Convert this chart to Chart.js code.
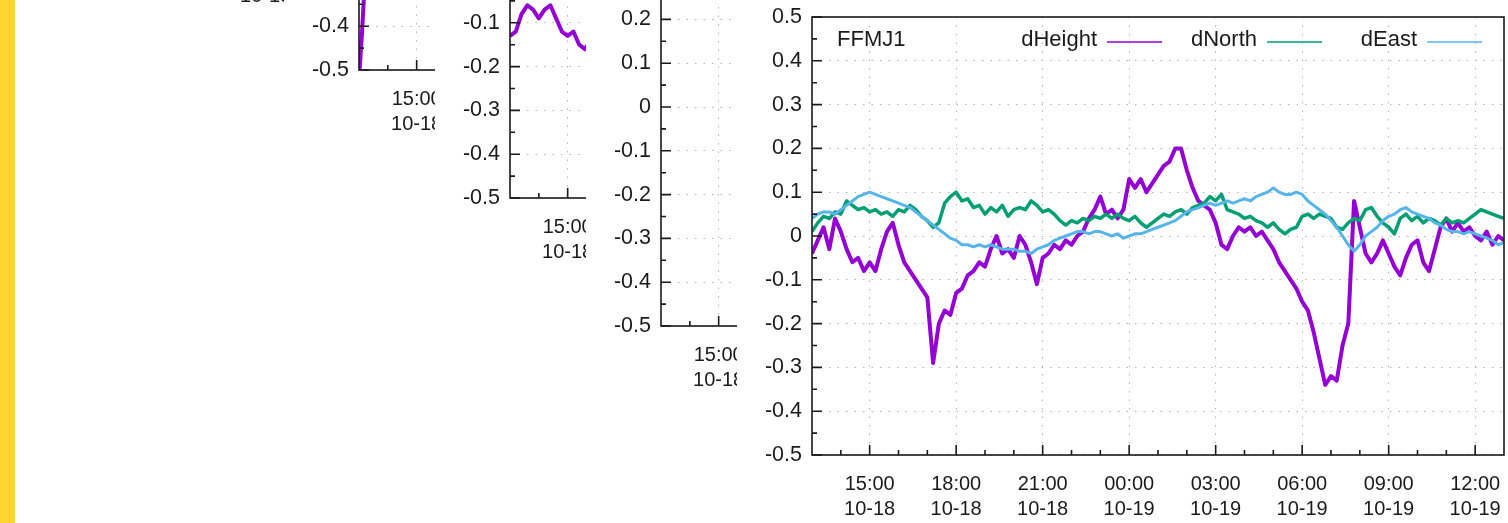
<!DOCTYPE html>
<html>
<head>
<meta charset="utf-8">
<script src="https://cdn.jsdelivr.net/npm/chart.js@4.4.0/dist/chart.umd.min.js"></script>
<style>
  html, body { margin: 0; padding: 0; background: #fff; overflow: hidden; }
  body { width: 1508px; height: 523px; position: relative; }
  #strip { position: absolute; left: 0; top: 0; width: 15px; height: 523px; background: #ffd52e; }
  canvas.plot { position: absolute; background: #fff; }
</style>
</head>
<body>
<div id="strip"></div>
<div id="plots"></div>
<script>
// hours after 13:00 on 10-18, one sample every STEP hours
const STEP = 0.2;

const tickHours = [2, 5, 8, 11, 14, 17, 20, 23];
const timeLabels = ['15:00', '18:00', '21:00', '00:00', '03:00', '06:00', '09:00', '12:00'];
const dateLabels = ['10-18', '10-18', '10-18', '10-19', '10-19', '10-19', '10-19', '10-19'];

// FFMJ1
const ffmj1Height = [
  -0.04, -0.01, 0.02, -0.03, 0.04, 0.01, -0.03, -0.06, -0.05, -0.08,
  -0.06, -0.08, -0.03, 0.01, 0.03, -0.02, -0.06, -0.08, -0.1, -0.12,
  -0.14, -0.29, -0.2, -0.17, -0.18, -0.13, -0.12, -0.09, -0.08, -0.06,
  -0.07, -0.03, 0.0, -0.04, -0.03, -0.05, 0.0, -0.02, -0.06, -0.11,
  -0.05, -0.04, -0.02, -0.03, -0.01, -0.02, 0.0, 0.01, 0.04, 0.06,
  0.09, 0.05, 0.06, 0.04, 0.06, 0.13, 0.11, 0.13, 0.1, 0.12,
  0.14, 0.16, 0.17, 0.2, 0.2, 0.15, 0.11, 0.08, 0.07, 0.06,
  0.03, -0.02, -0.03, 0.0, 0.02, 0.01, 0.02, 0.0, 0.01, -0.01,
  -0.03, -0.06, -0.08, -0.1, -0.12, -0.15, -0.17, -0.22, -0.28, -0.34,
  -0.32, -0.33, -0.25, -0.2, 0.08, 0.02, -0.04, -0.06, -0.04, -0.01,
  -0.04, -0.07, -0.09, -0.05, -0.02, -0.01, -0.06, -0.08, -0.03, 0.02,
  0.04, 0.01, 0.03, 0.01, 0.02, 0.0, -0.01, 0.01, -0.02, 0.0,
  -0.01
];
const ffmj1North = [
  0.01, 0.03, 0.045, 0.04, 0.055, 0.05, 0.08, 0.07, 0.06, 0.065,
  0.055, 0.06, 0.05, 0.055, 0.045, 0.06, 0.055, 0.07, 0.06, 0.045,
  0.035, 0.02, 0.03, 0.075, 0.09, 0.1, 0.08, 0.085, 0.065, 0.07,
  0.05, 0.065, 0.055, 0.07, 0.045, 0.06, 0.065, 0.06, 0.08, 0.07,
  0.055, 0.06, 0.05, 0.035, 0.025, 0.035, 0.03, 0.04, 0.035, 0.045,
  0.04, 0.05, 0.04, 0.05, 0.04, 0.035, 0.045, 0.03, 0.02, 0.03,
  0.04, 0.05, 0.045, 0.055, 0.06, 0.05, 0.065, 0.07, 0.075, 0.09,
  0.08, 0.095, 0.06, 0.055, 0.05, 0.04, 0.045, 0.035, 0.03, 0.02,
  0.03, 0.015, 0.005, 0.015, 0.02, 0.045, 0.05, 0.04, 0.05, 0.045,
  0.04, 0.02, 0.015, 0.03, 0.04, 0.035, 0.06, 0.065, 0.045, 0.03,
  0.02, 0.005, 0.04, 0.05, 0.035, 0.045, 0.03, 0.04, 0.035, 0.025,
  0.04, 0.03, 0.035, 0.03, 0.04, 0.05, 0.06, 0.055, 0.05, 0.045,
  0.04
];
const ffmj1East = [
  0.04, 0.05, 0.055, 0.055, 0.05, 0.06, 0.07, 0.08, 0.09, 0.095,
  0.1, 0.095, 0.09, 0.085, 0.08, 0.075, 0.07, 0.065, 0.055, 0.045,
  0.035, 0.025, 0.015, 0.005, -0.005, -0.01, -0.02, -0.02, -0.025, -0.02,
  -0.025, -0.02, -0.025, -0.03, -0.03, -0.03, -0.035, -0.035, -0.04, -0.03,
  -0.025, -0.02, -0.01, -0.005, 0.0, 0.005, 0.01, 0.01, 0.005, 0.01,
  0.01, 0.005, 0.0, 0.005, -0.005, 0.0, 0.005, 0.005, 0.01, 0.015,
  0.02, 0.025, 0.03, 0.035, 0.045, 0.055, 0.06, 0.065, 0.07, 0.075,
  0.07, 0.075, 0.08, 0.075, 0.08, 0.085, 0.08, 0.09, 0.095, 0.1,
  0.11, 0.1, 0.095, 0.095, 0.1, 0.095, 0.08, 0.07, 0.06, 0.05,
  0.035, 0.02, 0.0, -0.02, -0.035, -0.02, 0.0, 0.01, 0.02, 0.035,
  0.045, 0.05, 0.06, 0.065, 0.055, 0.05, 0.045, 0.04, 0.03, 0.025,
  0.015, 0.01, 0.01, 0.005, 0.01, 0.005, 0.0, -0.005, -0.01, -0.02,
  -0.015
];

// stations further back in the stack, only their first hours show
const stackHeightA = [-0.52, -0.42, -0.3, -0.2, -0.12, -0.08, -0.05, -0.04];
const stackHeightB = [
  -0.13, -0.12, -0.08, -0.06, -0.07, -0.09, -0.07, -0.06, -0.09, -0.12,
  -0.13, -0.12, -0.15, -0.16, -0.14
];

const COLORS = { height: '#9400d3', north: '#009e73', east: '#56b4e9' };
const FAMILY = 'Liberation Sans, Arial, sans-serif';
const TEXT = '#1a1a1a';

function toPoints(values, step) {
  return values.map((v, i) => ({ x: i * step, y: v }));
}

// gnuplot-like frame: box border, inward ticks, station name and key
const gnuFrame = {
  id: 'gnuFrame',
  afterDatasetsDraw(chart, args, opts) {
    const { ctx, chartArea: a, scales: { x, y } } = chart;
    ctx.save();
    ctx.strokeStyle = TEXT;
    ctx.lineWidth = 1.6;
    ctx.strokeRect(a.left, a.top, a.right - a.left, a.bottom - a.top);
    ctx.beginPath();
    for (let k = -10; k <= 10; k++) {
      const p = y.getPixelForValue(k * 0.05);
      const len = k % 2 === 0 ? 10 : 5;
      ctx.moveTo(a.left, p);
      ctx.lineTo(a.left + len, p);
    }
    for (let h = 1; h < 24; h++) {
      const p = x.getPixelForValue(h);
      const len = tickHours.includes(h) ? 10 : 5;
      ctx.moveTo(p, a.bottom);
      ctx.lineTo(p, a.bottom - len);
    }
    ctx.stroke();

    ctx.font = '22px ' + FAMILY;
    ctx.fillStyle = TEXT;
    ctx.textBaseline = 'middle';
    const ky = a.top + 23;
    ctx.textAlign = 'left';
    ctx.fillText(opts.station || '', a.left + 25, ky);

    const sets = chart.data.datasets;
    ctx.textAlign = 'right';
    sets.forEach((ds, i) => {
      const end = a.right - 22 - (sets.length - 1 - i) * 160;
      const start = end - 55;
      ctx.fillStyle = TEXT;
      ctx.fillText(ds.label, start - 10, ky);
      ctx.strokeStyle = ds.borderColor;
      ctx.lineWidth = 1.5;
      ctx.beginPath();
      ctx.moveTo(start, ky + 2);
      ctx.lineTo(end, ky + 2);
      ctx.stroke();
    });
    ctx.restore();
  }
};

function makePanel(left, top, station, height, north, east) {
  const canvas = document.createElement('canvas');
  canvas.className = 'plot';
  canvas.width = 800;
  canvas.height = 523;
  canvas.style.left = left + 'px';
  canvas.style.top = top + 'px';
  document.getElementById('plots').appendChild(canvas);

  new Chart(canvas, {
    type: 'line',
    data: {
      datasets: [
        { label: 'dHeight', data: height, borderColor: COLORS.height, borderWidth: 4, order: 3 },
        { label: 'dNorth', data: north, borderColor: COLORS.north, borderWidth: 3.5, order: 2 },
        { label: 'dEast', data: east, borderColor: COLORS.east, borderWidth: 3, order: 1 }
      ]
    },
    options: {
      responsive: false,
      animation: false,
      devicePixelRatio: 1,
      layout: { padding: { top: 17, right: 33, left: 0, bottom: 0 } },
      elements: { point: { radius: 0 }, line: { tension: 0, borderJoinStyle: 'round' } },
      plugins: { legend: { display: false }, tooltip: { enabled: false }, gnuFrame: { station } },
      scales: {
        x: {
          type: 'linear',
          min: 0,
          max: 24,
          afterBuildTicks: s => { s.ticks = tickHours.map(v => ({ value: v })); },
          afterFit: s => { s.height = 68; s.paddingLeft = 0; s.paddingRight = 0; },
          ticks: {
            maxRotation: 0,
            padding: 17,
            color: TEXT,
            font: { family: FAMILY, size: 20, lineHeight: 1.25 },
            callback: v => {
              const i = tickHours.indexOf(v);
              return [timeLabels[i], dateLabels[i]];
            }
          },
          grid: { color: '#b4b4b4', lineWidth: 1, drawTicks: false },
          border: { display: false, dash: [1.5, 7] }
        },
        y: {
          min: -0.5,
          max: 0.5,
          afterFit: s => { s.width = 75; s.paddingTop = 0; s.paddingBottom = 0; },
          ticks: {
            stepSize: 0.1,
            padding: 10,
            color: TEXT,
            font: { family: FAMILY, size: 21.5 },
            callback: v => Math.abs(v) < 1e-9 ? '0' : v.toFixed(1)
          },
          grid: { color: '#b4b4b4', lineWidth: 1, drawTicks: false },
          border: { display: false, dash: [1.5, 7] }
        }
      }
    },
    plugins: [gnuFrame]
  });
}

makePanel(133, -513, '', [], [], []);
makePanel(284, -385, '', toPoints(stackHeightA, 0.1), [], []);
makePanel(435, -257, '', toPoints(stackHeightB, STEP), [], []);
makePanel(586, -129, '', [], [], []);
makePanel(737, 0, 'FFMJ1', toPoints(ffmj1Height, STEP), toPoints(ffmj1North, STEP), toPoints(ffmj1East, STEP));
</script>
</body>
</html>
